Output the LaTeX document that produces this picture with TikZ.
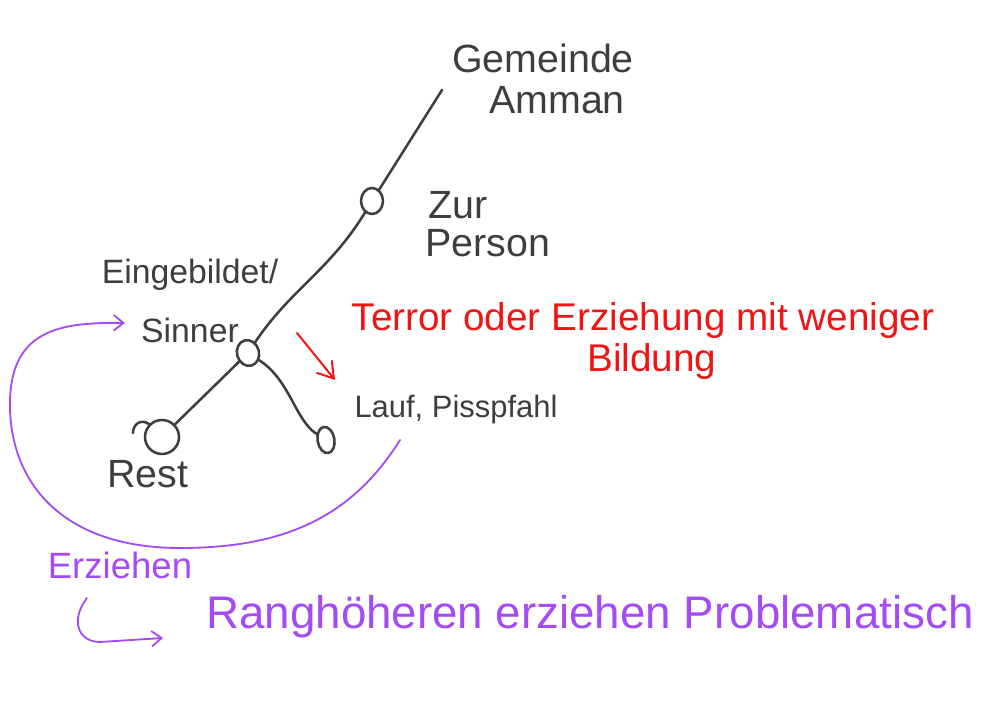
\documentclass[tikz,border=0pt]{standalone}
\usepackage{fontspec}
\setmainfont{Liberation Sans}
\usetikzlibrary{arrows.meta, shapes.geometric}
\definecolor{inkcol}{RGB}{62,62,62}
\definecolor{redcol}{RGB}{240,20,20}
\definecolor{purplecol}{RGB}{165,75,245}

\begin{document}
\begin{tikzpicture}[x=0.025cm, y=-0.025cm,
  lbl/.style={text=inkcol, inner sep=0pt, align=center, font=\fontsize{28}{32}\selectfont},
  redlbl/.style={text=redcol, inner sep=0pt, align=center, font=\fontsize{27.5}{30}\selectfont},
  purlbl/.style={text=purplecol, inner sep=0pt, align=center},
  knot/.style={draw=inkcol, line width=1.8pt, ellipse, inner sep=0pt,
               minimum width=0.55cm, minimum height=0.65cm},
  branch/.style={draw=inkcol, line width=1.8pt, line cap=round},
  redarrow/.style={draw=redcol, line width=1.4pt, line cap=round,
                   -{Straight Barb[length=11pt, width=14pt]}},
  purarrow/.style={draw=purplecol, line width=1.3pt, line cap=round,
                   -{Straight Barb[length=7pt, width=11pt]}}
]
  \useasboundingbox (0,0) rectangle (1000,707);

  % tree
  \coordinate (top) at (442,90);
  \node[knot] (jur) at (372,201) {};
  \node[knot, rotate=15] (sinn) at (248,353) {};
  \node[knot, circle, minimum size=0.85cm] (rest) at (162,437) {};
  \node[knot, minimum width=0.42cm, minimum height=0.66cm, rotate=10] (lauf) at (326,440) {};

  \draw[branch] (top) -- (jur);
  \draw[branch] (jur) .. controls (330,270) and (290,290) .. (sinn);
  \draw[branch] (sinn) -- (rest);
  \draw[branch] (sinn) .. controls (290,380) and (295,420) .. (lauf);
  \draw[branch] (rest.north west) .. controls (140,418) and (133,425) .. (133,433);

  % labels
  \node[lbl] (gem) at (543,58) {Gemeinde};
  \node[lbl] (amm) at (557,100) {Amman};
  \node[lbl] (zur) at (458,205) {Zur};
  \node[lbl] (pers) at (488,243) {Person};
  \node[lbl, font=\fontsize{24}{28}\selectfont] (einb) at (190,275) {Eingebildet/};
  \node[lbl, font=\fontsize{24}{28}\selectfont] (sinner) at (190,330) {Sinner};
  \node[lbl] (restl) at (148,474) {Rest};
  \node[lbl, font=\fontsize{22}{26}\selectfont] (laufl) at (456,410) {Lauf, Pisspfahl};

  % red note
  \coordinate (ra) at (297,333);
  \coordinate (rb) at (335,380);
  \draw[redarrow] (ra) -- (rb);
  \node[redlbl] (terror) at (643,321) {Terror oder Erziehung mit weniger};
  \node[redlbl] (bild) at (652,362) {Bildung};

  % purple loop
  \coordinate (pa) at (400,440);
  \coordinate (pb) at (125,323);
  \draw[purarrow] (pa) .. controls (350,520) and (280,548) .. (180,548)
    .. controls (60,548) and (8,480) .. (10,400)
    .. controls (12,330) and (60,322) .. (pb);
  \node[purlbl, font=\fontsize{26}{30}\selectfont] (erz) at (120,565) {Erziehen};
  \coordinate (ha) at (87,598);
  \coordinate (hb) at (163,638);
  \draw[purarrow] (ha) .. controls (70,620) and (78,642) .. (100,642) -- (hb);
  \node[purlbl, font=\fontsize{32.5}{36}\selectfont] (rang) at (590,617) {Ranghöheren erziehen Problematisch};
\end{tikzpicture}
\end{document}
